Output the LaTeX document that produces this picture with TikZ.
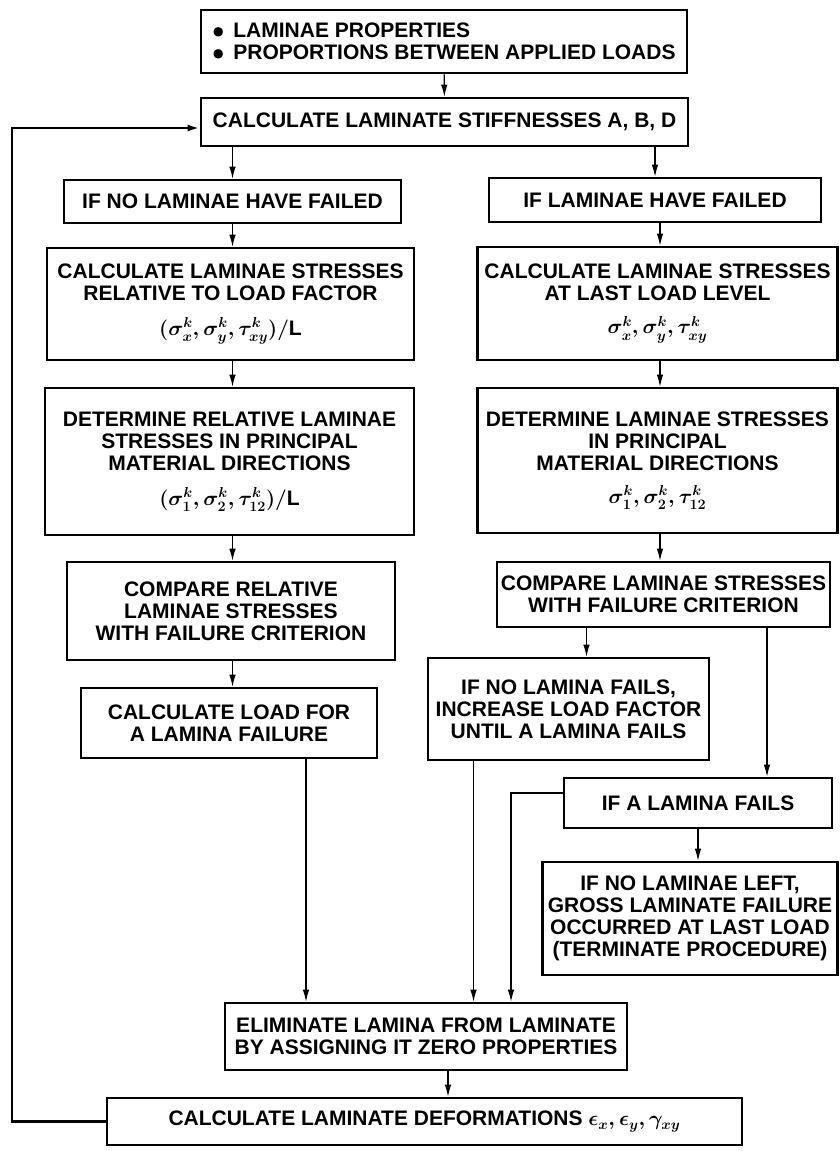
\documentclass[tikz,border=0pt]{standalone}
\usepackage{fontspec}
\setmainfont{Liberation Sans}
\usetikzlibrary{arrows.meta}
\tikzset{
  box/.style={draw, line width=2.6pt, align=center, inner sep=2pt,
    font=\bfseries\boldmath\fontsize{21}{22}\selectfont},
  arr/.style={line width=1.1pt, -{Latex[length=12pt,width=6.5pt]}},
  feedback/.style={line width=2.4pt, -{Latex[length=12pt,width=7pt]}},
}
\begin{document}
\begin{tikzpicture}[x=1pt,y=-1pt]
	\useasboundingbox (0,0) rectangle (839,1151);

	% Input and stiffnesses
	\node[box, align=left, minimum width=486pt, minimum height=63pt] (input) at (444,41.5)
		{$\bullet$\hspace{9pt}LAMINAE PROPERTIES\\$\bullet$\hspace{9pt}PROPORTIONS BETWEEN APPLIED LOADS};
	\node[box, minimum width=487pt, minimum height=48pt] (stiff) at (444.5,122)
		{CALCULATE LAMINATE STIFFNESSES A, B, D};

	% Left branch: no laminae failed
	\node[box, minimum width=337pt, minimum height=43pt] (nofail) at (232.5,201.5)
		{IF NO LAMINAE HAVE FAILED};
	\node[box, minimum width=367pt, minimum height=112pt] (relstress) at (230.5,304)
		{CALCULATE LAMINAE STRESSES\\RELATIVE TO LOAD FACTOR\\[13pt]$(\sigma^k_x, \sigma^k_y, \tau^k_{xy})/\mathrm{L}$};
	\node[box, minimum width=369pt, minimum height=147pt] (reldet) at (229.5,461.5)
		{DETERMINE RELATIVE LAMINAE\\STRESSES IN PRINCIPAL\\MATERIAL DIRECTIONS\\[13pt]$(\sigma^k_1, \sigma^k_2, \tau^k_{12})/\mathrm{L}$};
	\node[box, minimum width=328pt, minimum height=98pt] (relcomp) at (231,611)
		{COMPARE RELATIVE\\LAMINAE STRESSES\\WITH FAILURE CRITERION};
	\node[box, minimum width=296pt, minimum height=70pt] (loadfail) at (229,723)
		{CALCULATE LOAD FOR\\A LAMINA FAILURE};

	% Right branch: laminae failed
	\node[box, minimum width=332pt, minimum height=44pt] (fail) at (655,200)
		{IF LAMINAE HAVE FAILED};
	\node[box, minimum width=360pt, minimum height=113pt] (laststress) at (657.5,303.5)
		{CALCULATE LAMINAE STRESSES\\AT LAST LOAD LEVEL\\[11pt]$\sigma^k_x, \sigma^k_y, \tau^k_{xy}$};
	\node[box, minimum width=360pt, minimum height=145pt] (lastdet) at (657.5,460.5)
		{DETERMINE LAMINAE STRESSES\\IN PRINCIPAL\\MATERIAL DIRECTIONS\\[11pt]$\sigma^k_1, \sigma^k_2, \tau^k_{12}$};
	\node[box, minimum width=333pt, minimum height=65pt] (lastcomp) at (663.5,594.5)
		{COMPARE LAMINAE STRESSES\\WITH FAILURE CRITERION};
	\node[box, minimum width=281pt, minimum height=102pt] (nolamina) at (568.5,709)
		{IF NO LAMINA FAILS,\\INCREASE LOAD FACTOR\\UNTIL A LAMINA FAILS};
	\node[box, minimum width=268pt, minimum height=50pt] (afails) at (698,803)
		{IF A LAMINA FAILS};
	\node[box, minimum width=295pt, minimum height=113pt] (noleft) at (690,918.5)
		{IF NO LAMINAE LEFT,\\GROSS LAMINATE FAILURE\\OCCURRED AT LAST LOAD\\(TERMINATE PROCEDURE)};

	% Elimination and deformations
	\node[box, minimum width=402pt, minimum height=67pt] (elim) at (426,1036.5)
		{ELIMINATE LAMINA FROM LAMINATE\\BY ASSIGNING IT ZERO PROPERTIES};
	\node[box, minimum width=635pt, minimum height=47pt] (deform) at (424.5,1121.5)
		{CALCULATE LAMINATE DEFORMATIONS $\epsilon_x, \epsilon_y, \gamma_{xy}$};

	% Arrows
	\draw[arr] (input) -- (stiff);
	\draw[arr] (stiff.south -| nofail.north) -- (nofail.north);
	\draw[arr] (stiff.south -| fail.north) -- (fail.north);
	\draw[arr] (nofail) -- (nofail |- relstress.north);
	\draw[arr] (relstress.south -| nofail) -- (nofail |- reldet.north);
	\draw[arr] (reldet.south -| nofail) -- (nofail |- relcomp.north);
	\draw[arr] (relcomp.south -| nofail) -- (nofail |- loadfail.north);
	\draw[arr] ([xshift=5pt]fail.south) -- ([xshift=5pt]fail.south |- laststress.north);
	\draw[arr] ([xshift=5pt]fail.south |- laststress.south) -- ([xshift=5pt]fail.south |- lastdet.north);
	\draw[arr] ([xshift=5pt]fail.south |- lastdet.south) -- ([xshift=5pt]fail.south |- lastcomp.north);
	\draw[arr] ([xshift=18pt]nolamina.north |- lastcomp.south) -- ([xshift=18pt]nolamina.north);
	\draw[arr] ([xshift=69pt]afails.north |- lastcomp.south) -- ([xshift=69pt]afails.north);
	\draw[arr] (afails.south) -- (afails.south |- noleft.north);
	\draw[arr] ([xshift=77pt]loadfail.south) -- ([xshift=77pt]loadfail.south |- elim.north);
	\draw[arr] ([xshift=-95pt]nolamina.south) -- ([xshift=-95pt]nolamina.south |- elim.north);
	\draw[arr] ([yshift=10pt]afails.west) -| ([xshift=85pt]elim.north);
	\draw[arr] ([xshift=22pt]elim.south) -- ([xshift=22pt]elim.south |- deform.north);

	% Feedback loop
	\draw[feedback] (deform.west) -- ++(-94,0) |- ([yshift=-6pt]stiff.west);
\end{tikzpicture}
\end{document}
